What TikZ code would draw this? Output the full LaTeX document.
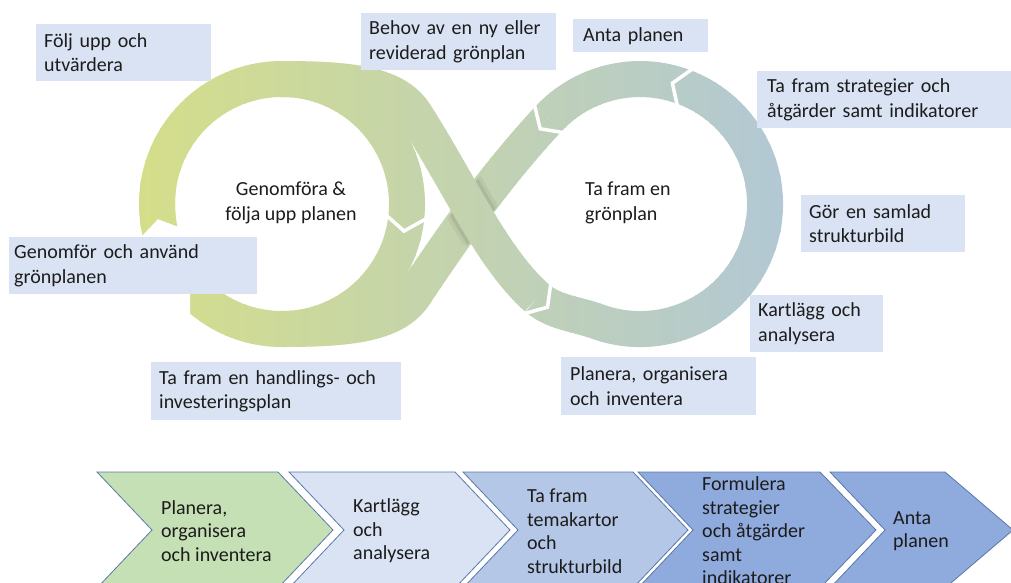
\documentclass[tikz,border=0pt]{standalone}
\usepackage{fontspec}
\setmainfont{Carlito}
\usetikzlibrary{calc}
\definecolor{gL}{RGB}{212,222,138}
\definecolor{gR}{RGB}{178,200,212}
\definecolor{boxc}{RGB}{218,227,243}
\definecolor{txt}{RGB}{28,28,28}
\definecolor{chb}{RGB}{90,120,170}
\definecolor{ch1}{RGB}{197,224,180}
\definecolor{ch2}{RGB}{218,227,243}
\definecolor{ch3}{RGB}{180,199,231}
\definecolor{ch4}{RGB}{143,170,220}
\begin{document}
\begin{tikzpicture}[x=1pt,y=-1pt,
  font=\fontsize{20}{24.5}\selectfont,
  band/.style={line width=36pt, line cap=butt},
  lbl/.style={fill=boxc, anchor=north west, inner xsep=8pt, inner ysep=0pt, align=left, text=txt},
  joint/.style={white, line width=3.5pt, line join=miter},
  chev/.style={draw=chb, line width=0.8pt},
  ctext/.style={anchor=west, align=left, inner sep=0pt, text=txt, font=\fontsize{20}{23.5}\selectfont}]
\useasboundingbox (0,0) rectangle (1011,582);
\clip (0,0) rectangle (1011,582);
\coordinate (L) at (282,204);
\coordinate (R) at (640,204);
% ---- pass 1: left ring, lower crossing ribbon, right ring
\foreach \i in {0,...,132}{
  \pgfmathsetmacro\xx{135+5*\i}
  \pgfmathsetmacro\pp{max(0,min(100,(\xx+2.5-140)/6.45))}
  \colorlet{sc}{gR!\pp!gL}
  \begin{scope}
    \clip (\xx,0) rectangle (\xx+6,582);
    \draw[band, sc] (282,204) circle[radius=125];
    \draw[band, sc] (548.6,118.75) .. controls (500.9,169.9) and (458.5,228.1) .. (414.5,294.5)
                    .. controls (395,324) and (350,329) .. (282,329);
    \draw[band, sc] (537,298) .. controls (553.5,312.5) and (576.6,314) .. (597.25,321.5)
                    arc[start angle=110, end angle=-137, radius=125];
  \end{scope}
}
% ---- shadow at the crossing
\begin{scope}
  \clip (519.75,176.35) -- (494.25,157.05) -- (441.15,227.25) -- (466.65,246.55) -- cycle;
  \draw[line width=50pt, black, opacity=0.05] (414.5,113.5) .. controls (457.7,180.7) and (492,258.4) .. (537,298);
  \draw[line width=43pt, black, opacity=0.07] (414.5,113.5) .. controls (457.7,180.7) and (492,258.4) .. (537,298);
\end{scope}
% ---- pass 2: upper crossing ribbon
\foreach \i in {0,...,132}{
  \pgfmathsetmacro\xx{135+5*\i}
  \pgfmathsetmacro\pp{max(0,min(100,(\xx+2.5-140)/6.45))}
  \colorlet{sc}{gR!\pp!gL}
  \begin{scope}
    \clip (\xx,0) rectangle (\xx+6,582);
    \draw[band, sc] (282,79) .. controls (350,79) and (395,84) .. (414.5,113.5)
                    .. controls (457.7,180.7) and (492,258.4) .. (537,298);
  \end{scope}
}
% ---- joints
\fill[white] ($(L)+(166:148)$) -- ($(L)+(173:125)$) -- ($(L)+(166:102)$) -- (190,232) -- (190,316) -- (130,316) -- cycle;
\draw[joint] ($(L)+(5:148)$) -- ($(L)+(12.5:125)$) -- ($(L)+(5:102)$);
\draw[joint] ($(R)+(-68:148)$) -- ($(R)+(-75:125)$) -- ($(R)+(-68:102)$);
\draw[joint] ($(R)+(-136:148)$) -- ($(R)+(-143:125)$) -- ($(R)+(-136:102)$);
\draw[joint] (523,314) -- (547.5,307.2) -- (551,282);
% ---- labels
\node[lbl, minimum width=175pt, minimum height=57pt, text width=159pt] (b1) at (36,24) {Följ upp och\\utvärdera};
\node[lbl, minimum width=195pt, minimum height=57pt, text width=179pt] (b2) at (361,13) {Behov av en ny eller\\reviderad grönplan};
\node[lbl, inner xsep=10pt, minimum width=135pt, minimum height=33pt, text width=115pt] (b3) at (573,19) {Anta planen};
\node[lbl, inner xsep=10pt, minimum width=254pt, minimum height=57pt, text width=234pt] (b4) at (757,71) {Ta fram strategier och\\åtgärder samt indikatorer};
\node[lbl, minimum width=164pt, minimum height=57pt, text width=148pt] (b5) at (801,195) {Gör en samlad\\strukturbild};
\node[lbl, minimum width=133pt, minimum height=57pt, text width=117pt] (b6) at (750,295) {Kartlägg och\\analysera};
\node[lbl, inner xsep=9pt, minimum width=195pt, minimum height=58pt, text width=177pt] (b7) at (561,357) {Planera, organisera\\och inventera};
\node[lbl, minimum width=250pt, minimum height=58pt, text width=234pt] (b8) at (151,362) {Ta fram en handlings- och\\investeringsplan};
\node[lbl, inner xsep=5pt, minimum width=248pt, minimum height=57pt, text width=238pt] (b9) at (9,237) {Genomför och använd\\grönplanen};
\node[align=center, inner sep=0pt, text=txt] (c1) at (291,203) {Genomföra \&\\följa upp planen};
\node[anchor=west, align=left, inner sep=0pt, text=txt] (c2) at (585,203) {Ta fram en\\grönplan};
% ---- chevrons
\draw[chev, fill=ch1] (97,472) -- (278,472) -- (333,530) -- (278,588) -- (97,588) -- (152,530) -- cycle;
\draw[chev, fill=ch2] (289,472) -- (455,472) -- (510,530) -- (455,588) -- (289,588) -- (344,530) -- cycle;
\draw[chev, fill=ch3] (463,472) -- (633,472) -- (688,530) -- (633,588) -- (463,588) -- (518,530) -- cycle;
\draw[chev, fill=ch4] (638,472) -- (820,472) -- (876,530) -- (820,588) -- (638,588) -- (693,530) -- cycle;
\draw[chev, fill=ch4] (830,472) -- (945,472) -- (1013,530) -- (945,588) -- (830,588) -- (885,530) -- cycle;
\node[ctext] (t1) at (161,531) {Planera,\\organisera\\och inventera};
\node[ctext] (t2) at (353,531) {Kartlägg\\och\\analysera};
\node[ctext] (t3) at (527,531) {Ta fram\\temakartor\\och\\strukturbild};
\node[ctext] (t4) at (702,531) {Formulera\\strategier\\och åtgärder\\samt\\indikatorer};
\node[ctext] (t5) at (893,531) {Anta\\planen};
\end{tikzpicture}
\end{document}
